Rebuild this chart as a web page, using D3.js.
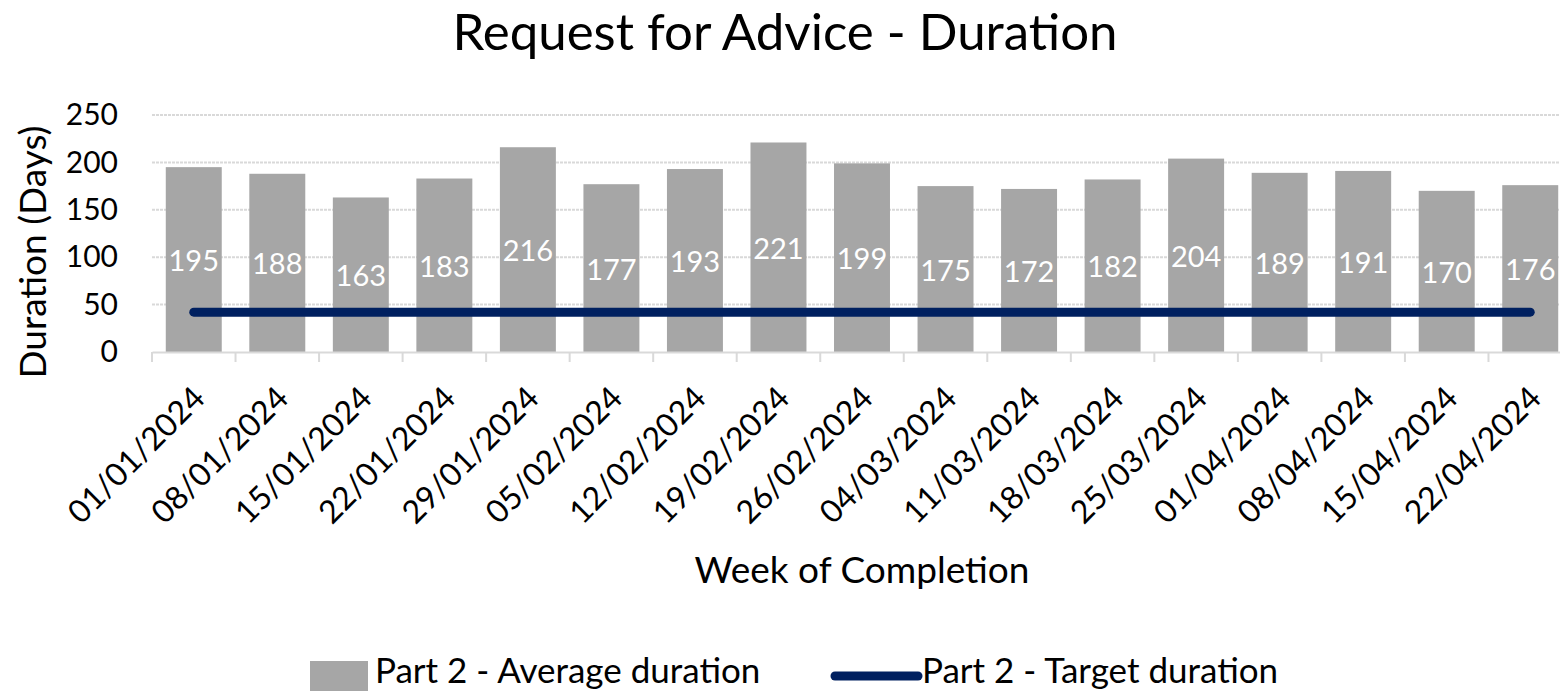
<!DOCTYPE html>
<html>
<head>
<meta charset="utf-8">
<script src="https://cdn.jsdelivr.net/npm/d3@7"></script>
<style>
  html, body { margin: 0; padding: 0; background: #fff; }
  svg { display: block; font-family: Lato, "Open Sans", sans-serif; }
</style>
</head>
<body>
<div id="chart"></div>
<script>
  'use strict';

  var weeks = ['01/01/2024', '08/01/2024', '15/01/2024', '22/01/2024', '29/01/2024',
    '05/02/2024', '12/02/2024', '19/02/2024', '26/02/2024', '04/03/2024',
    '11/03/2024', '18/03/2024', '25/03/2024', '01/04/2024', '08/04/2024',
    '15/04/2024', '22/04/2024'];
  var averageDuration = [195, 188, 163, 183, 216, 177, 193, 221, 199, 175,
    172, 182, 204, 189, 191, 170, 176];
  var targetDuration = [42, 42, 42, 42, 42, 42, 42, 42, 42, 42,
    42, 42, 42, 42, 42, 42, 42];
  var yTicks = [0, 50, 100, 150, 200, 250];

  var width = 1560, height = 691;
  var margin = { top: 115, left: 152, bottom: 339, right: -12 };
  var plotW = width - margin.left - margin.right;
  var plotH = height - margin.top - margin.bottom;

  var svg = d3.select('#chart').append('svg')
      .attr('width', width).attr('height', height);

  var g = svg.append('g').attr('transform', 'translate(' + margin.left + ',' + margin.top + ')');

  var x = d3.scaleBand().domain(weeks).range([0, plotW]).paddingInner(0.33).paddingOuter(0.165);
  var y = d3.scaleLinear().domain([0, 250]).range([plotH, 0]);

  // gridlines
  g.selectAll('.grid').data(yTicks.slice(1)).enter().append('line')
      .attr('x1', 0).attr('x2', plotW)
      .attr('y1', function(d) { return y(d); }).attr('y2', function(d) { return y(d); })
      .attr('stroke', '#d9d9d9').attr('stroke-width', 2).attr('stroke-dasharray', '3,1');

  // bars
  g.selectAll('.bar').data(averageDuration).enter().append('rect')
      .attr('x', function(d, i) { return x(weeks[i]); })
      .attr('y', function(d) { return y(d); })
      .attr('width', x.bandwidth())
      .attr('height', function(d) { return plotH - y(d); })
      .attr('fill', '#a6a6a6');

  // bar labels
  g.selectAll('.lbl').data(averageDuration).enter().append('text')
      .attr('x', function(d, i) { return x(weeks[i]) + x.bandwidth() / 2; })
      .attr('y', function(d) { return (y(d) + plotH) / 2; })
      .attr('text-anchor', 'middle').attr('dominant-baseline', 'central')
      .attr('fill', '#fff').attr('font-size', 29)
      .text(function(d) { return d; });

  // target line
  var line = d3.line()
      .x(function(d, i) { return x(weeks[i]) + x.bandwidth() / 2; })
      .y(function(d) { return y(d); });
  g.append('path').datum(targetDuration)
      .attr('d', line).attr('fill', 'none')
      .attr('stroke', '#002060').attr('stroke-width', 9).attr('stroke-linecap', 'round');

  // x axis
  var xAxis = g.append('g').attr('transform', 'translate(0,' + plotH + ')')
      .call(d3.axisBottom(x).tickSize(0));
  xAxis.select('.domain').attr('stroke', '#d9d9d9').attr('stroke-width', 2);
  xAxis.selectAll('.tick line').remove();
  var step = x.step();
  weeks.concat(['end']).forEach(function(w, i) {
    xAxis.append('line').attr('x1', i * step).attr('x2', i * step)
        .attr('y1', 0).attr('y2', 10).attr('stroke', '#d9d9d9').attr('stroke-width', 2);
  });
  xAxis.selectAll('.tick text')
      .attr('font-size', 32).attr('fill', '#000').attr('font-family', 'Lato, sans-serif')
      .attr('text-anchor', 'end').attr('x', 0).attr('y', 0).attr('dy', 0)
      .attr('transform', 'translate(13,48) rotate(-45)');

  // y axis
  var yAxis = g.append('g').call(d3.axisLeft(y).tickValues(yTicks).tickSize(0).tickPadding(34));
  yAxis.select('.domain').remove();
  yAxis.selectAll('.tick text').attr('font-size', 30).attr('fill', '#000')
      .attr('font-family', 'Lato, sans-serif');

  // titles
  svg.append('text').attr('x', 785).attr('y', 50).attr('text-anchor', 'middle')
      .attr('font-size', 51).attr('fill', '#000').text('Request for Advice - Duration');
  svg.append('text').attr('x', 862).attr('y', 583).attr('text-anchor', 'middle')
      .attr('font-size', 37).attr('fill', '#000').text('Week of Completion');
  svg.append('text').attr('transform', 'translate(46,252) rotate(-90)').attr('text-anchor', 'middle')
      .attr('font-size', 37).attr('fill', '#000').text('Duration (Days)');

  // legend
  var leg = svg.append('g');
  leg.append('rect').attr('x', 310).attr('y', 661).attr('width', 58).attr('height', 30).attr('fill', '#a6a6a6');
  leg.append('text').attr('x', 375).attr('y', 683).attr('font-size', 35).attr('fill', '#000')
      .text('Part 2 - Average duration');
  leg.append('line').attr('x1', 835).attr('x2', 918).attr('y1', 676).attr('y2', 676)
      .attr('stroke', '#002060').attr('stroke-width', 9).attr('stroke-linecap', 'round');
  leg.append('text').attr('x', 922).attr('y', 683).attr('font-size', 35).attr('fill', '#000')
      .text('Part 2 - Target duration');
</script>
</body>
</html>
